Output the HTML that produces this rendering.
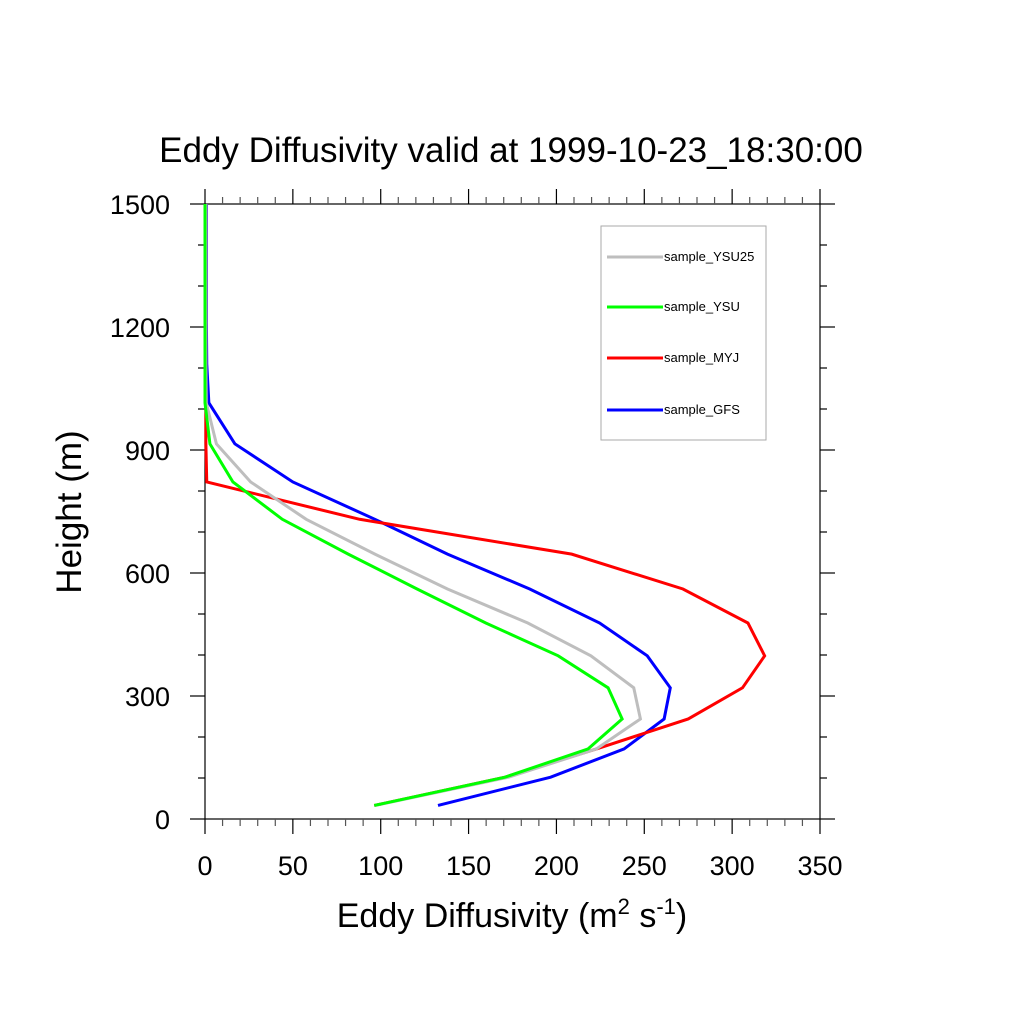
<!DOCTYPE html>
<html><head><meta charset="utf-8"><style>
body{margin:0;background:#fff;}
svg text{font-family:"Liberation Sans",Arial,sans-serif;}
</style></head><body>
<svg id="chart" width="1024" height="1024" viewBox="0 0 1024 1024" xmlns="http://www.w3.org/2000/svg">
<rect width="1024" height="1024" fill="#fff"/>
<text x="511" y="162" font-size="35" text-anchor="middle">Eddy Diffusivity valid at 1999-10-23_18:30:00</text>
<g id="axes"></g>
<g id="series"></g>
<text transform="translate(81,512) rotate(-90)" font-size="35" text-anchor="middle">Height (m)</text>
<text x="512" y="927" font-size="34" text-anchor="middle">Eddy Diffusivity (m<tspan font-size="22" dy="-13">2</tspan><tspan dy="13"> s</tspan><tspan font-size="22" dy="-13">-1</tspan><tspan dy="13">)</tspan></text>
<g id="legend">
<rect x="601" y="226" width="165" height="214" fill="#fff" stroke="#aaa" stroke-width="1"/>
</g>
</svg>
<script>
const heights=[33,102,171,244,320,398,478,561,646,731,822,915,1015,1110,1210,1310,1410,1500];
const ysu25=[96.7,172.8,222.8,247.8,244,219.6,183.7,138,96.7,57.6,26,6.5,0.7,0.5,0.5,0.5,0.5,0.5];
const ysu=[96.3,170.7,218,237.4,229.4,201,159.8,120.7,81.5,44,15.9,2.8,0,0,0,0,0,0];
const myj=[96.3,170.7,222.8,275,305.9,318.5,309,272,208.7,88,1,0.5,0.5,0.5,0.5,0.5,0.5,0.5];
const gfs=[132.6,196.7,238.5,261.3,264.8,251.7,224.6,184.8,138,96.7,50,17,2.2,1,0.8,0.8,0.8,0.8];
const seriesNames=["sample_YSU25","sample_YSU","sample_MYJ","sample_GFS"];
const seriesColors=["#bebebe","#00ff00","#ff0000","#0000ff"];
const xTicks=[0,50,100,150,200,250,300,350];
const yTicks=[0,300,600,900,1200,1500];
const X0=205,X1=820,Y0=819,Y1=204;
const sx=v=>X0+(v/350)*(X1-X0);
const sy=v=>Y0-(v/1500)*(Y0-Y1);
const NS="http://www.w3.org/2000/svg";
function mk(t,a,p){const e=document.createElementNS(NS,t);for(const k in a)e.setAttribute(k,a[k]);p.appendChild(e);return e;}
const ax=document.getElementById('axes');
const frame=mk('rect',{x:X0,y:Y1,width:X1-X0,height:Y0-Y1,fill:'none',stroke:'#000','stroke-width':1.2},ax);


for(let v=0;v<=350;v+=10){const maj=v%50===0,L=maj?15:7,x=sx(v);
 mk('line',{x1:x,y1:Y0,x2:x,y2:Y0+L,stroke:maj?'#000':'#555','stroke-width':1.2},ax);
 mk('line',{x1:x,y1:Y1,x2:x,y2:Y1-L,stroke:maj?'#000':'#555','stroke-width':1.2},ax);}
for(let v=0;v<=1500;v+=100){const maj=v%300===0,L=maj?15:7,y=sy(v);
 mk('line',{x1:X0,y1:y,x2:X0-L,y2:y,stroke:'#000','stroke-width':1.2},ax);
 mk('line',{x1:X1,y1:y,x2:X1+L,y2:y,stroke:'#000','stroke-width':1.2},ax);}
xTicks.forEach(v=>{const t=mk('text',{x:sx(v),y:875,'font-size':27,'text-anchor':'middle'},ax);t.textContent=v;
 
 });
yTicks.forEach(v=>{const t=mk('text',{x:170,y:sy(v)+10,'font-size':27,'text-anchor':'end'},ax);t.textContent=v;
 
 });
const sg=document.getElementById('series');
const data=[ysu25,ysu,myj,gfs];
const order=[3,2,0,1];
order.forEach(i=>{const pts=data[i].map((v,j)=>sx(v)+','+sy(heights[j])).join(' ');
 const pl=mk('polyline',{points:pts,fill:'none',stroke:seriesColors[i],'stroke-width':3,'stroke-linejoin':'miter'},sg);
 
 });
const lg=document.getElementById('legend');
const ly=[257,307,358,410];
seriesNames.forEach((n,i)=>{
 const g=mk('g',{},lg);
 
 
 mk('line',{x1:607,y1:ly[i],x2:663,y2:ly[i],stroke:seriesColors[i],'stroke-width':3},g);
 const t=mk('text',{x:664,y:ly[i]+4,'font-size':13},g);t.textContent=n;});
</script>
</body></html>
